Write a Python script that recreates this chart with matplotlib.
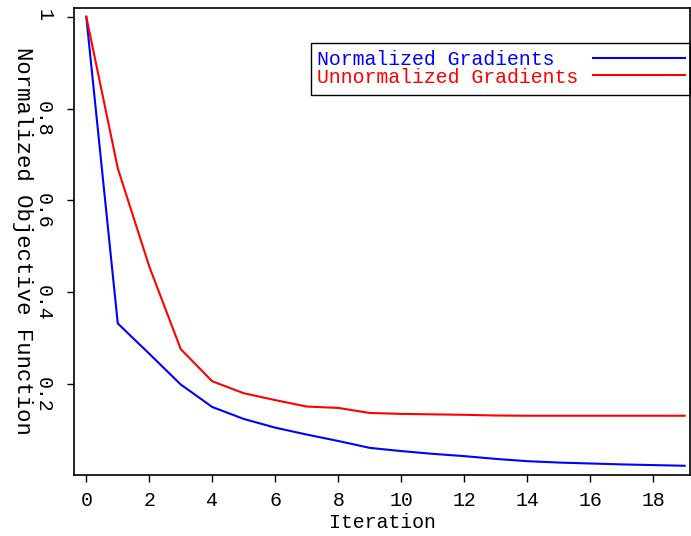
import numpy as np
import matplotlib
matplotlib.use("Agg")
import matplotlib.pyplot as plt
from matplotlib.lines import Line2D
from matplotlib.patches import Rectangle

iterations = np.arange(20)
normalized = [1.0, 0.332, 0.266, 0.199, 0.150, 0.124, 0.105, 0.090, 0.076, 0.061,
              0.054, 0.048, 0.043, 0.037, 0.032, 0.029, 0.027, 0.025, 0.0235, 0.022]
unnormalized = [1.0, 0.670, 0.456, 0.276, 0.206, 0.180, 0.165, 0.151, 0.148, 0.137,
                0.135, 0.134, 0.133, 0.1315, 0.131, 0.131, 0.131, 0.131, 0.131, 0.131]
labels = ["Normalized Gradients", "Unnormalized Gradients"]
colors = ["blue", "red"]

plt.rcParams['font.family'] = ['Liberation Mono', 'DejaVu Sans']
fs = 14.3

fig = plt.figure(figsize=(6.91, 5.36), dpi=100)
ax = fig.add_axes([74 / 691, 1 - 474.5 / 536, 616 / 691, 466.5 / 536])

ax.plot(iterations, normalized, color=colors[0], lw=1.5)
ax.plot(iterations, unnormalized, color=colors[1], lw=1.5)

ax.set_xlim(-0.39, 19.17)
ax.set_ylim(0.003, 1.019)
ax.set_xticks(np.arange(0, 19, 2))
ax.set_yticks([0.2, 0.4, 0.6, 0.8, 1.0])
ax.set_yticklabels(["0.2", "0.4", "0.6", "0.8", "1"])

for s in ax.spines.values():
    s.set_linewidth(1.2)
ax.tick_params(axis='both', direction='out', length=5, width=1, labelsize=fs)
ax.tick_params(axis='x', pad=7)
ax.tick_params(axis='y', pad=10, labelrotation=-90)

ax.set_xlabel("Iteration", fontsize=fs, va='top')
ax.xaxis.set_label_coords(0.5, -0.0825)
ax.set_ylabel("Normalized Objective Function", fontsize=16, rotation=-90,
              va='center', ha='center')
ax.yaxis.set_label_coords(-0.0828, 0.5)

# legend drawn by hand: text left, line on the right
ax.add_patch(Rectangle((0.384, 0.8135), 0.616, 0.1108, transform=ax.transAxes,
                       fill=False, edgecolor='black', lw=1.0, clip_on=False))
text_y = [0.8775, 0.8385]
line_y = [0.8922, 0.8557]
for lab, col, ty, ly in zip(labels, colors, text_y, line_y):
    ax.text(0.395, ty, lab, color=col, fontsize=fs, va='baseline', ha='left',
            transform=ax.transAxes)
    ax.add_line(Line2D([0.842, 0.992], [ly, ly], color=col, lw=1.5,
                       transform=ax.transAxes))

fig.savefig("out.png", dpi=100)
